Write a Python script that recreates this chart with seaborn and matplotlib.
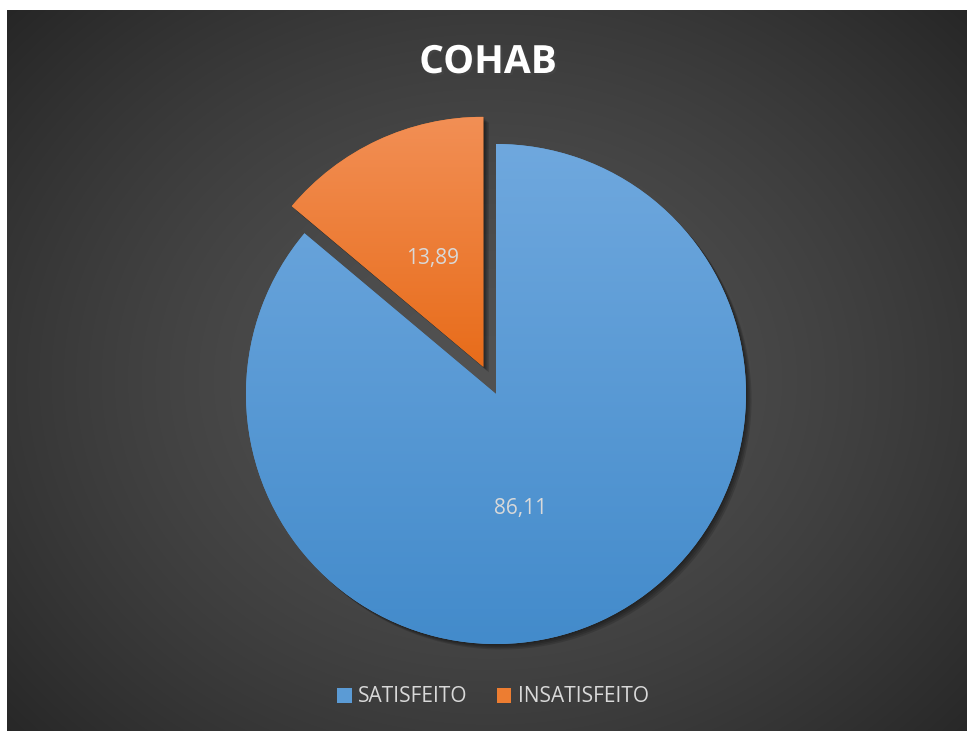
"""
Pie chart COHAB - satisfeito / insatisfeito (Excel style, dark background)
"""
import numpy as np
import matplotlib
matplotlib.use("Agg")
import matplotlib.pyplot as plt
import matplotlib.patheffects as pe
from matplotlib.patches import Patch
from matplotlib.colors import LinearSegmentedColormap, to_rgb
import seaborn as sns

# Data
TITLE = "COHAB"
categories = ["SATISFEITO", "INSATISFEITO"]
values = [86.11, 13.89]
explode_px = [0, 30]

# Style
colors = ["#5B9BD5", "#ED7D31"]
grad_top = ["#6FA8DE", "#F28F55"]
grad_bottom = ["#438BCB", "#E86C1A"]
TEXT_COLOR = "#D9D9D9"
W, H = 969, 733


def fmt_pct(p):
    return f"{p:.2f}".replace(".", ",")


def background(ax):
    """Radial dark gradient like the Excel chart style"""
    x0, x1, y0, y1 = 7, 967, 2, 723
    yy, xx = np.mgrid[y0:y1, x0:x1]
    cx, cy = 490, H - 380
    d = np.sqrt(((xx - cx) / 480) ** 2 + ((yy - cy) / 400) ** 2)
    val = (0x52 - 0x2C * np.clip(d / 1.37, 0, 1) ** 1.5) / 255
    img = np.dstack([val, val, val])
    ax.imshow(img, origin="lower", extent=(x0, x1, y0, y1), aspect="auto",
              interpolation="bilinear", zorder=0)


def gradient_fill(ax, wedge, c_top, c_bottom, z):
    bb = wedge.get_path().get_extents()
    cmap = LinearSegmentedColormap.from_list("g", [to_rgb(c_bottom), to_rgb(c_top)])
    grad = np.linspace(0, 1, 256).reshape(-1, 1)
    im = ax.imshow(grad, cmap=cmap, origin="lower", aspect="auto",
                   extent=(bb.x0, bb.x1, bb.y0, bb.y1), zorder=z)
    im.set_clip_path(wedge)


def main():
    sns.set_theme(style="dark")
    plt.rcParams["font.family"] = ["Open Sans", "DejaVu Sans"]

    fig = plt.figure(figsize=(W / 100, H / 100), dpi=100, facecolor="white")
    ax = fig.add_axes([0, 0, 1, 1])

    background(ax)

    wedges, texts, autotexts = ax.pie(
        values, center=(496, H - 394), radius=250, startangle=90,
        counterclock=False, explode=explode_px, colors=colors,
        autopct=fmt_pct, pctdistance=0.48, frame=True,
        wedgeprops=dict(linewidth=0),
        textprops=dict(color=TEXT_COLOR, fontsize=15))
    ax.set_xlim(0, W)
    ax.set_ylim(0, H)
    ax.axis("off")

    # soft drop shadow: a few stacked translucent offsets
    shadow = [pe.SimplePatchShadow(offset=(k, -k), shadow_rgbFace="black", alpha=0.14)
              for k in (1, 2, 3, 4)]
    for i, w in enumerate(wedges):
        z = 1 + i * 2
        w.set_zorder(z)
        w.set_path_effects(shadow + [pe.Normal()])
        gradient_fill(ax, w, grad_top[i], grad_bottom[i], z + 0.5)
    for t in autotexts:
        t.set_zorder(10)

    # Excel puts the big slice label nearer the vertical axis
    cx, cy = wedges[0].center
    r = wedges[0].r
    ang = np.deg2rad(-78)
    autotexts[0].set_position((cx + 0.47 * r * np.cos(ang), cy + 0.47 * r * np.sin(ang)))

    ax.text(488, H - 73, TITLE, ha="center", va="baseline", fontsize=28,
            fontweight="bold", color="white", zorder=10,
            path_effects=[pe.withSimplePatchShadow(offset=(1.5, -1.5), alpha=0.4)])

    handles = [Patch(facecolor=c, edgecolor="none") for c in colors]
    leg = ax.legend(handles, categories, loc="center", ncol=2, frameon=False,
                    bbox_to_anchor=(493 / W, (H - 697) / H), bbox_transform=fig.transFigure,
                    fontsize=15, handlelength=0.7, handleheight=0.7,
                    handletextpad=0.3, columnspacing=1.4)
    for t in leg.get_texts():
        t.set_color(TEXT_COLOR)

    fig.savefig("out.png", dpi=100, facecolor="white")


if __name__ == "__main__":
    main()
